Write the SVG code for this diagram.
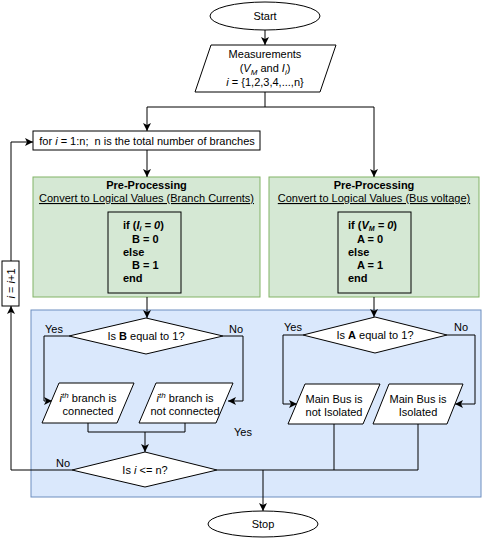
<svg xmlns="http://www.w3.org/2000/svg" width="483" height="541" viewBox="0 0 483 541">
<defs>
<marker id="arr" viewBox="0 0 8 8" refX="8" refY="4" markerWidth="8" markerHeight="8" markerUnits="userSpaceOnUse" orient="auto">
<path d="M0,0 L8,4 L0,8 L2,4 z" fill="#000"/>
</marker>
<style>
text{font-family:"Liberation Sans",Arial,Helvetica,sans-serif;font-size:11px;fill:#000}
.m{text-anchor:middle}
.b{font-weight:bold}
.i{font-style:italic}
.shape{fill:#fff;stroke:#000;stroke-width:1}
.green{fill:#d5e8d4;stroke:#82b366;stroke-width:1}
.blue{fill:#dae8fc;stroke:#6c8ebf;stroke-width:1}
.conn path{fill:none;stroke:#000;stroke-width:1}
.arrow{marker-end:url(#arr)}
</style>
</defs>
<rect width="483" height="541" fill="#fff"/>

<g id="bg-blue"><rect class="blue" x="31" y="310" width="450" height="187"/></g>

<g id="pre1">
<rect class="green" x="33" y="177" width="227" height="120"/>
<text class="m b" x="146.5" y="189">Pre-Processing</text>
<text class="m" x="146.5" y="202" text-decoration="underline">Convert to Logical Values (Branch Currents)</text>
<rect class="shape" x="108" y="212" width="73" height="81" style="fill:none"/>
<text class="b" x="123" y="229">if (<tspan class="i">I</tspan><tspan class="i" font-size="7" dy="2">i</tspan><tspan class="i" dy="-2"> = 0</tspan>)</text>
<text class="b" x="132" y="243">B = 0</text>
<text class="b" x="123" y="256">else</text>
<text class="b" x="132" y="269">B = 1</text>
<text class="b" x="123" y="282">end</text>
</g>

<g id="pre2">
<rect class="green" x="269" y="177" width="210" height="120"/>
<text class="m b" x="374" y="189">Pre-Processing</text>
<text class="m" x="374" y="202" text-decoration="underline">Convert to Logical Values (Bus voltage)</text>
<rect class="shape" x="338" y="212" width="73" height="81" style="fill:none"/>
<text class="b" x="348" y="229">if (<tspan class="i">V</tspan><tspan class="i" font-size="7" dy="2">M</tspan><tspan class="i" dy="-2"> = 0</tspan>)</text>
<text class="b" x="357" y="243">A = 0</text>
<text class="b" x="348" y="256">else</text>
<text class="b" x="357" y="269">A = 1</text>
<text class="b" x="348" y="282">end</text>
</g>

<g class="conn" id="connectors">
<path class="arrow" d="M265,30 V45"/>
<path class="arrow" d="M265,92 V107 H147 V131"/>
<path class="arrow" d="M265,107 H374 V177"/>
<path class="arrow" d="M147,150 V177"/>
<path class="arrow" d="M147,297 V318"/>
<path class="arrow" d="M374,297 V317"/>
<path class="arrow" d="M69,336 H44 V401 H52"/>
<path class="arrow" d="M223,336 H243 V401 H228"/>
<path d="M88,423 V432 H185 V423"/>
<path class="arrow" d="M145,432 V452"/>
<path class="arrow" d="M303,335 H283 V404 H297"/>
<path class="arrow" d="M447,335 H475 V404 H455"/>
<path d="M334,424 V470"/>
<path d="M418,424 V470 H217"/>
<path class="arrow" d="M263,470 V511"/>
<path class="arrow" d="M72,470 H11 V306"/>
<path class="arrow" d="M11,261 V142 H33"/>
<text x="54" y="333" class="m">Yes</text>
<text x="236" y="333" class="m">No</text>
<text x="293" y="331" class="m">Yes</text>
<text x="461" y="331" class="m">No</text>
<text x="243" y="436" class="m">Yes</text>
<text x="63" y="467" class="m">No</text>
</g>

<g id="start">
<ellipse class="shape" cx="265" cy="16" rx="55" ry="14"/>
<text class="m" x="265" y="20">Start</text>
</g>

<g id="measurements">
<polygon class="shape" points="211,45 336,45 320,92 195,92"/>
<text class="m" x="265" y="58">Measurements</text>
<text class="m" x="265" y="72">(<tspan class="i">V</tspan><tspan class="i" font-size="8" dy="3">M</tspan><tspan dy="-3"> and </tspan><tspan class="i">I</tspan><tspan class="i" font-size="8" dy="3">i</tspan><tspan dy="-3">)</tspan></text>
<text class="m" x="265" y="86"><tspan class="i">i</tspan> = {1,2,3,4,...,n}</text>
</g>

<g id="for-loop">
<rect class="shape" x="33" y="131" width="227" height="19"/>
<text class="m" x="147" y="145" style="white-space:pre"><tspan>for </tspan><tspan class="i">i</tspan><tspan> = 1:n;  n is the total number of branches</tspan></text>
</g>

<g id="increment">
<rect class="shape" x="2" y="261" width="17" height="45"/>
<text class="m" transform="rotate(-90 10.5 283.5)" x="10.5" y="287.5"><tspan class="i">i</tspan> = <tspan class="i">i</tspan>+1</text>
</g>

<g id="decision-b">
<polygon class="shape" points="146,318 223,336 146,354 69,336"/>
<text class="m" x="146" y="340">Is <tspan class="b">B</tspan> equal to 1?</text>
</g>

<g id="decision-a">
<polygon class="shape" points="375,317 447,335 375,353 303,335"/>
<text class="m" x="375" y="339">Is <tspan class="b">A</tspan> equal to 1?</text>
</g>

<g id="branch-connected">
<polygon class="shape" points="59,383 134,383 117,423 42,423"/>
<text class="m" x="88" y="402"><tspan class="i">i</tspan><tspan class="i" font-size="8" dy="-4">th</tspan><tspan dy="4"> branch is</tspan></text>
<text class="m" x="88" y="415">connected</text>
</g>

<g id="branch-not-connected">
<polygon class="shape" points="156,383 233,383 216,423 139,423"/>
<text class="m" x="185" y="402"><tspan class="i">i</tspan><tspan class="i" font-size="8" dy="-4">th</tspan><tspan dy="4"> branch is</tspan></text>
<text class="m" x="185" y="415">not connected</text>
</g>

<g id="bus-not-isolated">
<polygon class="shape" points="305,384 380,384 363,424 288,424"/>
<text class="m" x="334" y="403">Main Bus is</text>
<text class="m" x="334" y="416">not Isolated</text>
</g>

<g id="bus-isolated">
<polygon class="shape" points="389,384 463,384 447,424 373,424"/>
<text class="m" x="418" y="403">Main Bus is</text>
<text class="m" x="418" y="416">Isolated</text>
</g>

<g id="decision-loop">
<polygon class="shape" points="145,452 217,470 145,487 72,470"/>
<text class="m" x="145" y="474">Is <tspan class="i">i</tspan> &lt;= n?</text>
</g>

<g id="stop">
<ellipse class="shape" cx="263" cy="524" rx="55" ry="13"/>
<text class="m" x="263" y="528">Stop</text>
</g>
</svg>
